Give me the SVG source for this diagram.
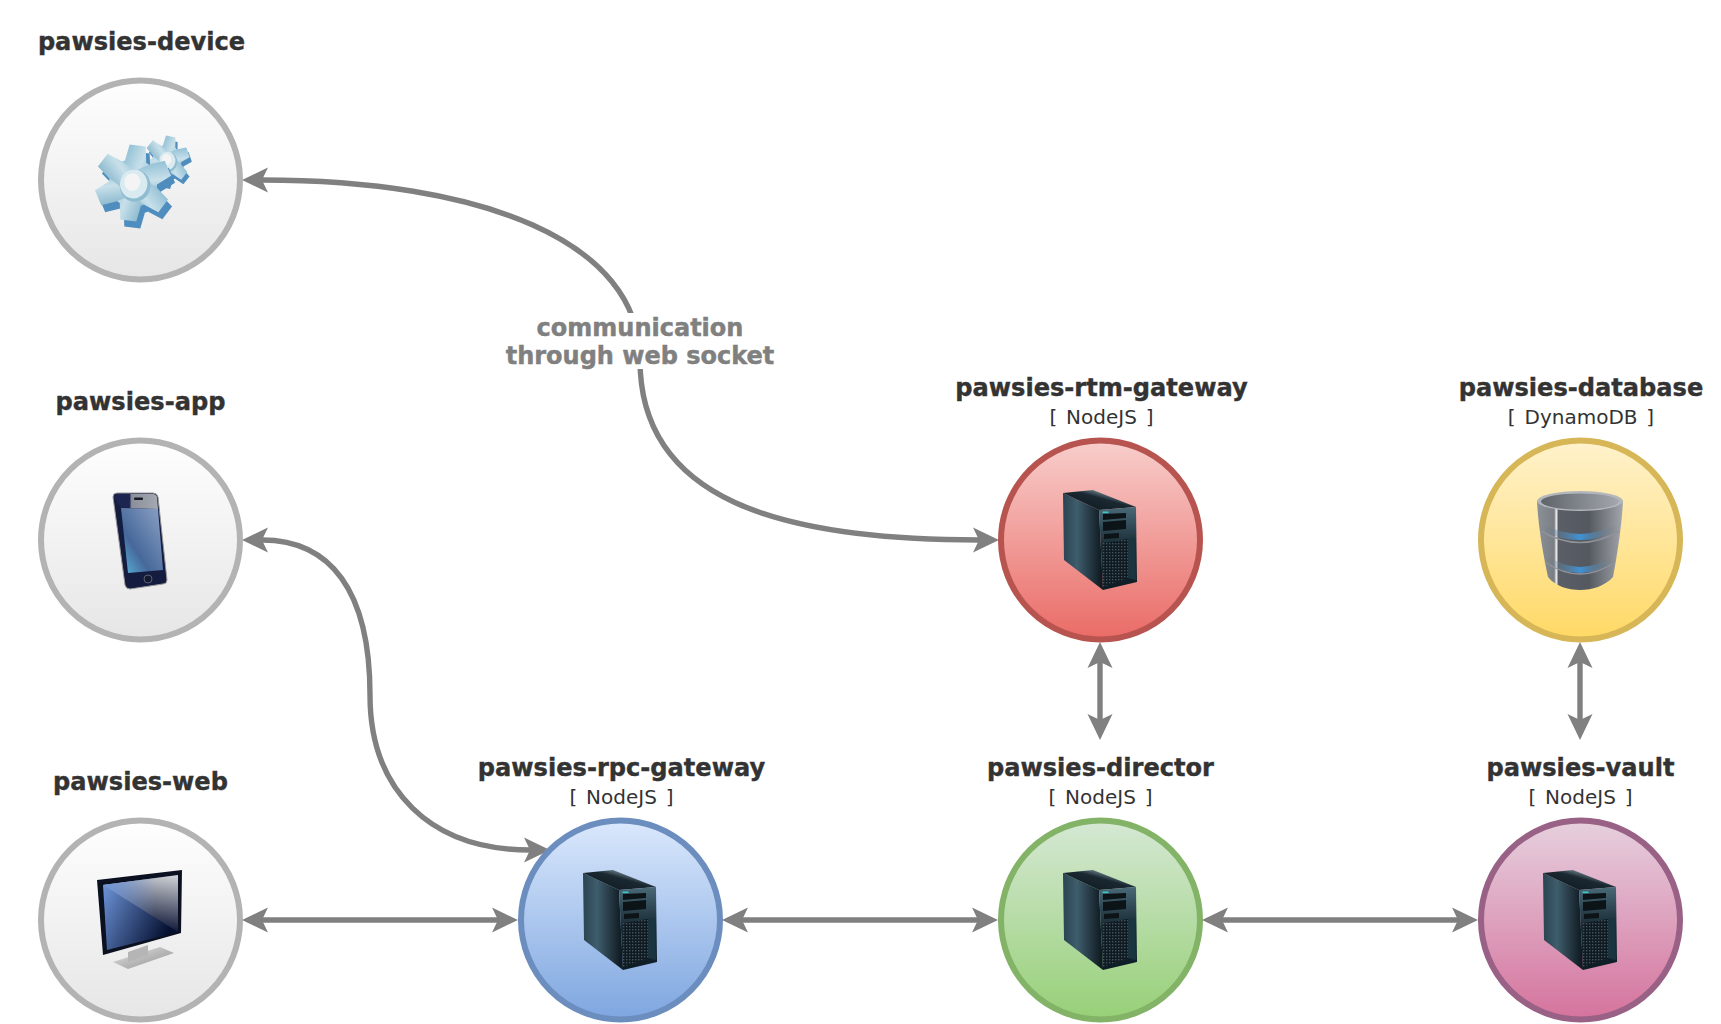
<svg xmlns="http://www.w3.org/2000/svg" width="1721" height="1024" viewBox="0 0 1721 1024">
<style>
.t{font-family:"DejaVu Sans","Liberation Sans",sans-serif;font-weight:700;font-size:24.1px;fill:#333;stroke:#333;stroke-width:.4;text-anchor:middle}
.s{font-family:"DejaVu Sans","Liberation Sans",sans-serif;font-size:20px;fill:#333;text-anchor:middle;word-spacing:2.5px}
.l{font-family:"DejaVu Sans","Liberation Sans",sans-serif;font-weight:700;font-size:24px;fill:#808080;stroke:#808080;stroke-width:.45;text-anchor:middle}
.c{stroke-width:6}
.e{fill:none;stroke:#808080;stroke-width:5.4;marker-start:url(#a);marker-end:url(#a)}
</style>
<defs>
<marker id="a" markerUnits="userSpaceOnUse" viewBox="-7 -14 28 28" refX="0" refY="0" markerWidth="28" markerHeight="28" orient="auto-start-reverse"><path d="M0,0L-6,-12.500L20,0L-6,12.500Z" fill="#808080"/></marker>
<linearGradient id="gGray" x1="0" y1="0" x2="0" y2="1"><stop offset="0" stop-color="#fefefe"/><stop offset="1" stop-color="#e6e6e6"/></linearGradient>
<linearGradient id="gRed" x1="0" y1="0" x2="0" y2="1"><stop offset="0" stop-color="#f8cecc"/><stop offset="1" stop-color="#ea6b66"/></linearGradient>
<linearGradient id="gBlue" x1="0" y1="0" x2="0" y2="1"><stop offset="0" stop-color="#dae8fc"/><stop offset="1" stop-color="#7ea6e0"/></linearGradient>
<linearGradient id="gGreen" x1="0" y1="0" x2="0" y2="1"><stop offset="0" stop-color="#d5e8d4"/><stop offset="1" stop-color="#97d077"/></linearGradient>
<linearGradient id="gYellow" x1="0" y1="0" x2="0" y2="1"><stop offset="0" stop-color="#fff2cc"/><stop offset="1" stop-color="#ffd966"/></linearGradient>
<linearGradient id="gPurple" x1="0" y1="0" x2="0" y2="1"><stop offset="0" stop-color="#e6d0de"/><stop offset="1" stop-color="#d5739d"/></linearGradient>
<linearGradient id="sSide" x1="0" y1="0" x2="1" y2="0"><stop offset="0" stop-color="#2a4350"/><stop offset=".35" stop-color="#3f5d6d"/><stop offset="1" stop-color="#0c161c"/></linearGradient>
<linearGradient id="sTop" x1="0" y1="1" x2="1" y2="0"><stop offset="0" stop-color="#0e171d"/><stop offset=".55" stop-color="#1a2831"/><stop offset=".8" stop-color="#8fa5b0"/><stop offset="1" stop-color="#1f2f38"/></linearGradient>
<linearGradient id="sFront" x1="0" y1="0" x2="0" y2="1"><stop offset="0" stop-color="#4a6877"/><stop offset=".45" stop-color="#1a2e38"/><stop offset="1" stop-color="#0e1c24"/></linearGradient>
<pattern id="grille" width="3" height="3" patternUnits="userSpaceOnUse"><rect width="3" height="3" fill="#101a20"/><rect width="1.400" height="1.400" fill="#3f5560"/></pattern>
<g id="server">
<polygon points="-37,-47 -1,-30 3,50 -36,20" fill="url(#sSide)"/>
<polygon points="-37,-47 -7,-50 36,-33 -1,-30" fill="url(#sTop)"/>
<polygon points="-1,-30 36,-33 37,42 3,50" fill="url(#sFront)"/>
<polygon points="3,-26 26,-27 26,-22 3,-20" fill="#0c1418"/>
<polygon points="3,-18 26,-20 26,-11 3,-9" fill="#0c1418"/>
<polygon points="4,-6 19,-7 19,-2 4,-1" fill="#0c1418"/>
<polygon points="3,3 28,-1 28,38 3,47" fill="url(#grille)"/>
<polygon points="28,-1 35,-3 36,40 28,38" fill="#1a3440"/>
<rect x="2.500" y="-28.500" width="6" height="1.600" fill="#3cc8c8"/>
</g>
<linearGradient id="gearTop" x1="0" y1="0" x2="1" y2="1"><stop offset="0" stop-color="#8dbdd3"/><stop offset=".5" stop-color="#c8e0ea"/><stop offset="1" stop-color="#86b6cc"/></linearGradient>
<g id="gearShape"><circle r="30"/>
<polygon points="-13,-28 -10,-47 10,-47 13,-28 13,28 10,47 -10,47 -13,28"/>
<polygon points="-13,-28 -10,-47 10,-47 13,-28 13,28 10,47 -10,47 -13,28" transform="rotate(60)"/>
<polygon points="-13,-28 -10,-47 10,-47 13,-28 13,28 10,47 -10,47 -13,28" transform="rotate(120)"/></g>
<g id="gear">
<use href="#gearShape" x="6" y="8" fill="#4f8dbe"/>
<use href="#gearShape" fill="url(#gearTop)"/>
<ellipse cx="3" cy="3" rx="19" ry="20" fill="#8fbcd0"/>
<ellipse cx="1" cy="1" rx="17" ry="18" fill="#d9eaf0"/>
<ellipse cx="-1" cy="-1" rx="10" ry="11" fill="#f4f4f4"/>
</g>
<linearGradient id="dbBody" x1="0" y1="0" x2="1" y2="0"><stop offset="0" stop-color="#8c9097"/><stop offset=".2" stop-color="#7a7e85"/><stop offset=".225" stop-color="#f0f0f0"/><stop offset=".25" stop-color="#5a5e66"/><stop offset=".6" stop-color="#54585f"/><stop offset="1" stop-color="#a3a7ad"/></linearGradient>
<linearGradient id="dbBand" x1="0" y1="0" x2="1" y2="0"><stop offset="0" stop-color="#777" stop-opacity="0"/><stop offset=".5" stop-color="#3e92d6"/><stop offset="1" stop-color="#777" stop-opacity="0"/></linearGradient>
<linearGradient id="dbTop" x1="0" y1="0" x2="1" y2="0"><stop offset="0" stop-color="#5f636a"/><stop offset=".6" stop-color="#878b92"/><stop offset="1" stop-color="#a4a7ad"/></linearGradient>
<linearGradient id="monScreen" x1="0" y1="0" x2="1" y2=".5"><stop offset="0" stop-color="#739ce2"/><stop offset="1" stop-color="#050f30"/></linearGradient>
<linearGradient id="monGloss" x1=".9" y1="0" x2=".7" y2="1"><stop offset="0" stop-color="#cfd2d6"/><stop offset="1" stop-color="#070f30"/></linearGradient>
<linearGradient id="monFade" x1="0" y1="0" x2="1" y2="0"><stop offset="0" stop-color="#6f97dc"/><stop offset=".7" stop-color="#6f97dc" stop-opacity="0"/></linearGradient>
<linearGradient id="monBase" x1="0" y1="0" x2="1" y2="1"><stop offset="0" stop-color="#e4e4e4"/><stop offset="1" stop-color="#8f8f8f"/></linearGradient>
<linearGradient id="phScreen" x1="1" y1="0" x2="0" y2="1"><stop offset="0" stop-color="#8ea3c6"/><stop offset=".65" stop-color="#46689a"/><stop offset="1" stop-color="#5ab8de"/></linearGradient>
<linearGradient id="phTop" x1="0" y1="0" x2="1" y2="0"><stop offset="0" stop-color="#1c2450"/><stop offset=".35" stop-color="#1c2450"/><stop offset=".4" stop-color="#8a8f9a"/><stop offset="1" stop-color="#a5a9b0"/></linearGradient>
</defs>

<g id="connectors">
<path class="e" d="M262,180C480,180 640,240 640,360C640,500 780,540 979,540"/>
<path class="e" d="M262,540C330,540 370,590 370,695C370,790 430,850 530,850"/>
<path class="e" d="M262,920H498"/>
<path class="e" d="M742,920H978"/>
<path class="e" d="M1222,920H1458"/>
<path class="e" d="M1100,662V720"/>
<path class="e" d="M1580,662V720"/>
<g id="connector-label">
<rect x="505" y="313" width="270" height="56" fill="#fff"/>
<text class="l" x="640" y="336">communication</text>
<text class="l" x="640" y="364">through web socket</text>
</g>
</g>

<g id="pawsies-device">
<circle class="c" cx="140.500" cy="180" r="99.500" fill="url(#gGray)" stroke="#b3b3b3"/>
<text class="t" x="141.500" y="50">pawsies-device</text>
<g transform="translate(167,160) matrix(.47 .1 -.08 .5 0 0)"><use href="#gear"/></g>
<g transform="translate(133,183) matrix(.8 .1 -.1 .8 0 0)"><use href="#gear"/></g>
</g>

<g id="pawsies-app">
<circle class="c" cx="140.500" cy="540" r="99.500" fill="url(#gGray)" stroke="#b3b3b3"/>
<text class="t" x="140.500" y="410">pawsies-app</text>
<path d="M-23,-47H13Q17,-47 18,-43L27,40Q27,44 23,44L-10,49Q-14,49 -15,45L-27,-43Q-27,-47 -23,-47Z" transform="translate(140,540)" fill="#141c40" stroke="#9a9a9a" stroke-width="1"/>
<path d="M-23,-46L-7,-46L13,-46Q16,-46 17,-43L18,-31L-19,-32L-26,-43Z" transform="translate(140,540)" fill="url(#phTop)"/>
<polygon points="-19,-32 18,-31 23,30 -12,33" transform="translate(140,540)" fill="url(#phScreen)"/>
<rect x="134" y="497.500" width="9" height="2.500" rx="1" fill="#1a1a22"/>
<circle cx="148" cy="579" r="4" fill="#151a33" stroke="#5a6070"/>
</g>

<g id="pawsies-web">
<circle class="c" cx="140.500" cy="920" r="99.500" fill="url(#gGray)" stroke="#b3b3b3"/>
<text class="t" x="140.500" y="790">pawsies-web</text>
<g transform="translate(140,920)">
<polygon points="-27,42 20,27 34,33 -12,49" fill="url(#monBase)"/>
<polygon points="-12,32 8,25 8,35 -12,42" fill="#b5b5b5"/>
<polygon points="-43,-40 42,-50 41,13 -37,35" fill="#0b1120"/>
<polygon points="-37,-35 38,-45 38,12 -33,30" fill="url(#monScreen)"/>
<polygon points="-37,-35 38,-45 38,12" fill="url(#monGloss)"/>
<polygon points="-37,-35 38,-45 38,12" fill="url(#monFade)"/>
</g>
</g>

<g id="pawsies-rpc-gateway">
<circle class="c" cx="620.500" cy="920" r="99.500" fill="url(#gBlue)" stroke="#6c8ebf"/>
<text class="t" x="621.500" y="776">pawsies-rpc-gateway</text>
<text class="s" x="621.500" y="804">[ NodeJS ]</text>
<use href="#server" x="620" y="920"/>
</g>

<g id="pawsies-director">
<circle class="c" cx="1100.500" cy="920" r="99.500" fill="url(#gGreen)" stroke="#82b366"/>
<text class="t" x="1100.500" y="776">pawsies-director</text>
<text class="s" x="1100.500" y="804">[ NodeJS ]</text>
<use href="#server" x="1100" y="920"/>
</g>

<g id="pawsies-vault">
<circle class="c" cx="1580.500" cy="920" r="99.500" fill="url(#gPurple)" stroke="#996185"/>
<text class="t" x="1580.500" y="776">pawsies-vault</text>
<text class="s" x="1580.500" y="804">[ NodeJS ]</text>
<use href="#server" x="1580" y="920"/>
</g>

<g id="pawsies-rtm-gateway">
<circle class="c" cx="1100.500" cy="540" r="99.500" fill="url(#gRed)" stroke="#b85450"/>
<text class="t" x="1101.500" y="396">pawsies-rtm-gateway</text>
<text class="s" x="1101.500" y="424">[ NodeJS ]</text>
<use href="#server" x="1100" y="540"/>
</g>

<g id="pawsies-database">
<circle class="c" cx="1580.500" cy="540" r="99.500" fill="url(#gYellow)" stroke="#d6b656"/>
<text class="t" x="1581" y="396">pawsies-database</text>
<text class="s" x="1581" y="424">[ DynamoDB ]</text>
<g transform="translate(1580,540)">
<path d="M-43,-39C-42,-20 -39,5 -32,37C-25,46 -12,50 0,50C12,50 25,46 33,37C39,5 42,-20 43,-39Z" fill="url(#dbBody)"/>
<ellipse cx="0" cy="-39" rx="43" ry="10" fill="#b3b6bb"/>
<ellipse cx="0" cy="-38.500" rx="39" ry="8" fill="url(#dbTop)"/>
<path d="M-39,-13Q0,7 39,-13" fill="none" stroke="url(#dbBand)" stroke-width="6"/>
<path d="M-39,-9Q0,14 39,-9" fill="none" stroke="#8f9399" stroke-width="1.500"/>
<path d="M-35,18Q0,42 35,18" fill="none" stroke="url(#dbBand)" stroke-width="6"/>
<path d="M-35,22Q0,46 35,22" fill="none" stroke="#8f9399" stroke-width="1.500"/>
</g>
</g>
</svg>
